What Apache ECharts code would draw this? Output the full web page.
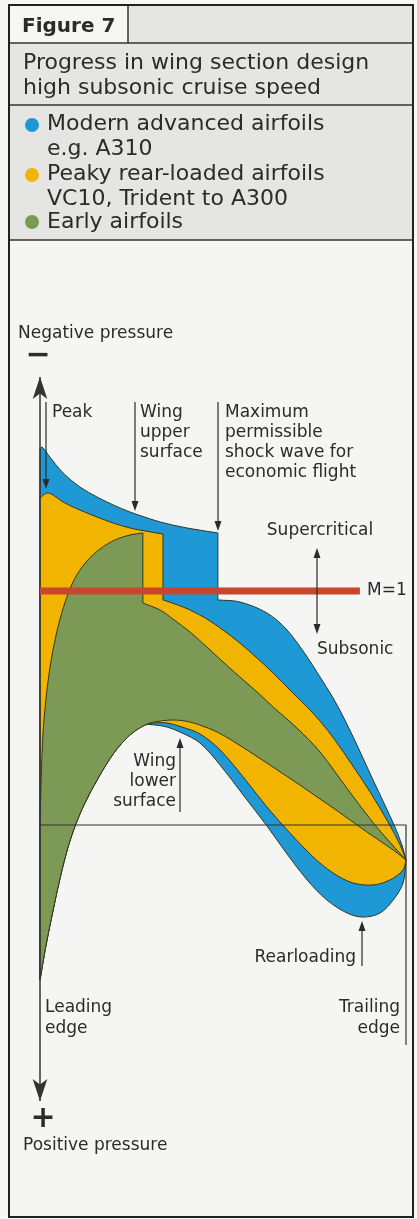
<!DOCTYPE html>
<html><head><meta charset="utf-8">
<script src="https://cdn.jsdelivr.net/npm/echarts@6/dist/echarts.min.js"></script>
<style>html,body{margin:0;padding:0;background:#f7f7f5}#c{width:417px;height:1219px}</style>
</head><body><div id="c"></div>
<script>
// x = chord position (0 leading edge, 1 trailing edge); y = pressure coefficient Cp (negative = suction, drawn upward)
// Modern advanced airfoils (A310)
const modernUpperFront = [[0,-2.426],[0.0055,-2.439],[0.027,-2.374],[0.063,-2.271],[0.109,-2.181],[0.156,-2.116],[0.200,-2.065],[0.246,-2.019],[0.273,-1.997],[0.328,-1.955],[0.402,-1.916],[0.486,-1.884]];
const modernUpperRear = [[0.486,-1.452],[0.546,-1.439],[0.620,-1.368],[0.675,-1.258],[0.730,-1.084],[0.765,-0.955],[0.801,-0.819],[0.833,-0.677],[0.866,-0.516],[0.910,-0.290],[0.965,-0.013],[0.989,0.129],[1,0.226]];
const modernLower = [[0,1.0],[0.014,0.806],[0.033,0.581],[0.060,0.290],[0.087,0.065],[0.120,-0.129],[0.159,-0.303],[0.202,-0.465],[0.246,-0.581],[0.287,-0.645],[0.314,-0.645],[0.347,-0.632],[0.388,-0.594],[0.437,-0.529],[0.492,-0.387],[0.555,-0.194],[0.620,0.006],[0.675,0.187],[0.730,0.355],[0.784,0.484],[0.839,0.568],[0.883,0.594],[0.929,0.568],[0.965,0.484],[0.992,0.374],[1,0.226]];
// Peaky rear-loaded airfoils (VC10, Trident to A300)
const peakyUpperFront = [[0,-2.110],[0.019,-2.142],[0.036,-2.129],[0.063,-2.084],[0.109,-2.032],[0.156,-1.987],[0.200,-1.948],[0.246,-1.916],[0.273,-1.903],[0.336,-1.877]];
const peakyUpperRear = [[0.336,-1.452],[0.369,-1.426],[0.410,-1.387],[0.456,-1.329],[0.500,-1.258],[0.546,-1.174],[0.593,-1.077],[0.637,-0.981],[0.683,-0.871],[0.730,-0.761],[0.765,-0.671],[0.806,-0.548],[0.853,-0.387],[0.902,-0.213],[0.951,-0.019],[0.984,0.129],[1,0.226]];
const peakyLower = [[0,1.0],[0.014,0.806],[0.033,0.581],[0.060,0.290],[0.087,0.065],[0.120,-0.129],[0.159,-0.303],[0.202,-0.465],[0.246,-0.581],[0.287,-0.645],[0.314,-0.658],[0.347,-0.658],[0.388,-0.632],[0.437,-0.587],[0.492,-0.484],[0.555,-0.310],[0.620,-0.116],[0.683,0.052],[0.746,0.206],[0.801,0.310],[0.855,0.374],[0.910,0.387],[0.956,0.355],[0.992,0.290],[1,0.226]];
// Early airfoils
const earlyUpperFront = [[0,0.032],[0.003,-0.290],[0.008,-0.581],[0.016,-0.806],[0.027,-1.013],[0.044,-1.226],[0.066,-1.419],[0.093,-1.581],[0.126,-1.697],[0.164,-1.781],[0.205,-1.839],[0.246,-1.871],[0.281,-1.884]];
const earlyUpperRear = [[0.281,-1.432],[0.328,-1.387],[0.363,-1.329],[0.410,-1.245],[0.456,-1.148],[0.500,-1.052],[0.546,-0.955],[0.593,-0.858],[0.637,-0.761],[0.702,-0.626],[0.765,-0.471],[0.842,-0.226],[0.915,0],[0.970,0.148],[1,0.226]];
const earlyLower = [[0,1.0],[0.014,0.806],[0.033,0.581],[0.060,0.290],[0.087,0.065],[0.120,-0.129],[0.159,-0.303],[0.202,-0.465],[0.246,-0.581],[0.287,-0.645],[0.314,-0.665],[0.355,-0.677],[0.396,-0.671],[0.437,-0.645],[0.484,-0.600],[0.527,-0.542],[0.620,-0.400],[0.710,-0.258],[0.801,-0.110],[0.893,0.045],[0.965,0.161],[1,0.226]];
// reference lines
const sonicLine = [[0,-1.51],[0.874,-1.51]];          // M = 1
const baseLine = [[0,0],[1,0],[1,1.42]];              // zero pressure + trailing edge marker
const pressureAxis = [[0,1.78],[0,-2.89]];
const seriesNames = ['Modern advanced airfoils e.g. A310','Peaky rear-loaded airfoils VC10, Trident to A300','Early airfoils'];

const FONT = 'DejaVu Sans';
const INK = '#2b2b2b';
const COL = {blue:'#1f99d6', yellow:'#f1b400', green:'#7c9a55', red:'#c8452e'};

// smooth cubic path through points (pixel space), tangents weighted by chord lengths
function smoothSeg(pts){
  const n = pts.length;
  const dist = (a,b)=>Math.hypot(b[0]-a[0], b[1]-a[1]) || 1e-6;
  const tan = [];
  for(let i=0;i<n;i++){
    let a, b;
    if(i===0){a=pts[0]; b=pts[1];}
    else if(i===n-1){a=pts[n-2]; b=pts[n-1];}
    else {a=pts[i-1]; b=pts[i+1];}
    const d = (i===0||i===n-1) ? dist(a,b) : dist(pts[i-1],pts[i])+dist(pts[i],pts[i+1]);
    tan.push([(b[0]-a[0])/d, (b[1]-a[1])/d]);
  }
  let s='';
  for(let i=0;i<n-1;i++){
    const p1=pts[i], p2=pts[i+1], L=dist(p1,p2)/3;
    const c1=[p1[0]+tan[i][0]*L, p1[1]+tan[i][1]*L];
    const c2=[p2[0]-tan[i+1][0]*L, p2[1]-tan[i+1][1]*L];
    s+=`C${c1[0]},${c1[1]},${c2[0]},${c2[1]},${p2[0]},${p2[1]}`;
  }
  return s;
}
function airfoilSeries(name, front, rear, lower, color, z){
  return {
    name, type:'custom', coordinateSystem:'cartesian2d', z, silent:true,
    data:[[0,0]],
    renderItem:function(params, api){
      const P = p => api.coord(p);
      const f = front.map(P), r = rear.map(P), l = lower.slice().reverse().map(P);
      const le = P(lower[0]);
      let d = `M${le[0]},${le[1]}L${f[0][0]},${f[0][1]}` + smoothSeg(f) +
              `L${r[0][0]},${r[0][1]}` + smoothSeg(r) + smoothSeg(l) + 'Z';
      return {type:'path', shape:{pathData:d}, style:{fill:color, stroke:'#2e3824', lineWidth:1}};
    }
  };
}

function txt(x,y,text,o){
  o=o||{};
  return {type:'text', x, y, z:100, silent:true, style:{text, fill:INK, fontFamily:FONT, fontSize:o.size||17,
    fontWeight:o.weight||'normal', align:o.align||'left', verticalAlign:o.va||'middle', lineHeight:o.lh||20}};
}
function vArrow(x,y1,y2){
  const dir = y2>y1?1:-1;
  return [
    {type:'line', z:100, silent:true, shape:{x1:x,y1:y1,x2:x,y2:y2-dir*6}, style:{stroke:INK, lineWidth:1.2}},
    {type:'polygon', z:100, silent:true, shape:{points:[[x-3.5,y2-dir*10],[x+3.5,y2-dir*10],[x,y2]]}, style:{fill:INK}}
  ];
}
function hline(x1,x2,y,w){return {type:'line', z:1, silent:true, shape:{x1,y1:y,x2,y2:y}, style:{stroke:'#333', lineWidth:w||1.5}};}
function vline(x,y1,y2,w){return {type:'line', z:1, silent:true, shape:{x1:x,y1,x2:x,y2}, style:{stroke:'#333', lineWidth:w||1.5}};}

const graphics = [
  {type:'rect', z:-5, silent:true, shape:{x:9,y:5,width:404,height:235}, style:{fill:'#e5e5e3'}},
  {type:'rect', z:-4, silent:true, shape:{x:9,y:5,width:119,height:38}, style:{fill:'#f6f6f4'}},
  {type:'rect', z:-5, silent:true, shape:{x:9,y:240,width:404,height:977}, style:{fill:'#f5f5f3'}},
  hline(9,413,43), hline(9,413,105), hline(9,413,240), vline(128,5,43),
  {type:'rect', z:1, silent:true, shape:{x:9,y:5,width:404,height:1212}, style:{fill:'none', stroke:'#222', lineWidth:2}},
  txt(22,27,'Figure 7',{size:20, weight:'bold'}),
  txt(23,63,'Progress in wing section design',{size:22}),
  txt(23,88,'high subsonic cruise speed',{size:22}),
  {type:'circle', z:10, silent:true, shape:{cx:32,cy:125,r:7}, style:{fill:COL.blue}},
  {type:'circle', z:10, silent:true, shape:{cx:32,cy:175,r:7}, style:{fill:COL.yellow}},
  {type:'circle', z:10, silent:true, shape:{cx:32,cy:222,r:7}, style:{fill:COL.green}},
  txt(47,124-12.5,'Modern advanced airfoils\ne.g. A310',{size:22, va:'top', lh:25}),
  txt(47,174-12.5,'Peaky rear-loaded airfoils\nVC10, Trident to A300',{size:22, va:'top', lh:25}),
  txt(47,222,'Early airfoils',{size:22}),
  txt(18,334,'Negative pressure'),
  txt(38,356,'\u2212',{size:30, weight:'bold', align:'center'}),
  txt(43,1119,'+',{size:30, weight:'bold', align:'center'}),
  txt(23,1146,'Positive pressure'),
  txt(52,413,'Peak'),
  txt(140,403,'Wing\nupper\nsurface',{va:'top'}),
  txt(225,403,'Maximum\npermissible\nshock wave for\neconomic flight',{va:'top'}),
  txt(320,531,'Supercritical',{align:'center'}),
  txt(367,591,'M=1'),
  txt(317,650,'Subsonic'),
  txt(176,752,'Wing\nlower\nsurface',{va:'top', align:'right'}),
  txt(356,958,'Rearloading',{align:'right'}),
  txt(45,997,'Leading\nedge',{va:'top', lh:21}),
  txt(400,997,'Trailing\nedge',{va:'top', lh:21, align:'right'}),
  ...vArrow(46,402,489),
  ...vArrow(135,402,511),
  ...vArrow(218,402,531),
  ...vArrow(317,590,548),
  ...vArrow(317,590,634),
  ...vArrow(180,812,738),
  ...vArrow(362,966,921)
];

const chart = echarts.init(document.getElementById('c'), null, {renderer:'canvas'});
chart.setOption({
  animation:false,
  backgroundColor:'#f7f7f5',
  grid:{left:40, top:360, width:366, height:775},
  xAxis:{type:'value', min:0, max:1, show:false},
  yAxis:{type:'value', min:-3, max:2, inverse:true, show:false},
  graphic:graphics,
  series:[
    airfoilSeries(seriesNames[0], modernUpperFront, modernUpperRear, modernLower, COL.blue, 2),
    airfoilSeries(seriesNames[1], peakyUpperFront, peakyUpperRear, peakyLower, COL.yellow, 3),
    airfoilSeries(seriesNames[2], earlyUpperFront, earlyUpperRear, earlyLower, COL.green, 4),
    {type:'line', name:'M=1', data:sonicLine, z:5, symbol:'none', silent:true,
     lineStyle:{color:COL.red, width:7, cap:'butt'}},
    {type:'line', name:'baseline', data:baseLine, z:6, symbol:'none', silent:true,
     lineStyle:{color:'#333', width:1.2},
     markLine:{silent:true, symbol:['arrow','arrow'], symbolSize:[11,22], animation:false,
       lineStyle:{color:'#333', width:1.5, type:'solid'}, label:{show:false},
       data:[[{coord:pressureAxis[0]},{coord:pressureAxis[1]}]]}}
  ]
});
</script></body></html>
